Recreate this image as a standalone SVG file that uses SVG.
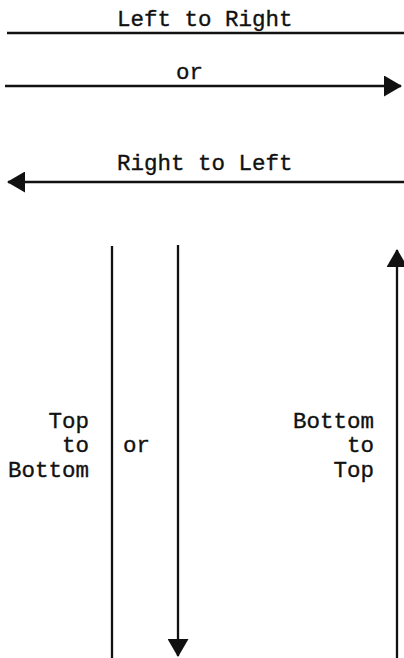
<svg xmlns="http://www.w3.org/2000/svg" width="404" height="658" viewBox="0 0 404 658">
  <defs>
    <style>
      .lbl { font-family: "Liberation Mono", "Courier New", monospace; font-size: 22.5px; fill: #111; stroke: #111; stroke-width: 0.35; }
      .ln { stroke: #111; stroke-width: 2.3; fill: none; }
      .end { text-anchor: end; }
    </style>
    <marker id="head" markerUnits="userSpaceOnUse" markerWidth="18" markerHeight="21" refX="17" refY="10.5" orient="auto">
      <path d="M0,0 L18,10.5 L0,21 Z" fill="#111"/>
    </marker>
  </defs>
  <rect width="404" height="658" fill="#fff"/>

  <g id="connectors">
    <!-- horizontal: plain line and arrow to the right -->
    <line class="ln" x1="7" y1="33" x2="404" y2="33"/>
    <line class="ln" x1="5" y1="86" x2="401" y2="86" marker-end="url(#head)"/>
    <!-- horizontal: arrow to the left -->
    <line class="ln" x1="404" y1="182" x2="8" y2="182" marker-end="url(#head)"/>
    <!-- vertical: plain line and arrow downward -->
    <line class="ln" x1="112" y1="246" x2="112" y2="658"/>
    <line class="ln" x1="178" y1="245" x2="178" y2="656" marker-end="url(#head)"/>
    <!-- vertical: arrow upward -->
    <line class="ln" x1="397" y1="658" x2="397" y2="250" marker-end="url(#head)"/>
  </g>

  <g id="left-to-right">
    <text class="lbl" x="117" y="26">Left to Right</text>
  </g>
  <g id="or-horizontal">
    <text class="lbl" x="176" y="79">or</text>
  </g>
  <g id="right-to-left">
    <text class="lbl" x="117" y="170">Right to Left</text>
  </g>
  <g id="top-to-bottom">
    <text class="lbl end" x="89" y="428">Top</text>
    <text class="lbl end" x="89" y="452">to</text>
    <text class="lbl end" x="89" y="477">Bottom</text>
  </g>
  <g id="or-vertical">
    <text class="lbl" x="123" y="452">or</text>
  </g>
  <g id="bottom-to-top">
    <text class="lbl end" x="374" y="428">Bottom</text>
    <text class="lbl end" x="374" y="452">to</text>
    <text class="lbl end" x="374" y="477">Top</text>
  </g>
</svg>
